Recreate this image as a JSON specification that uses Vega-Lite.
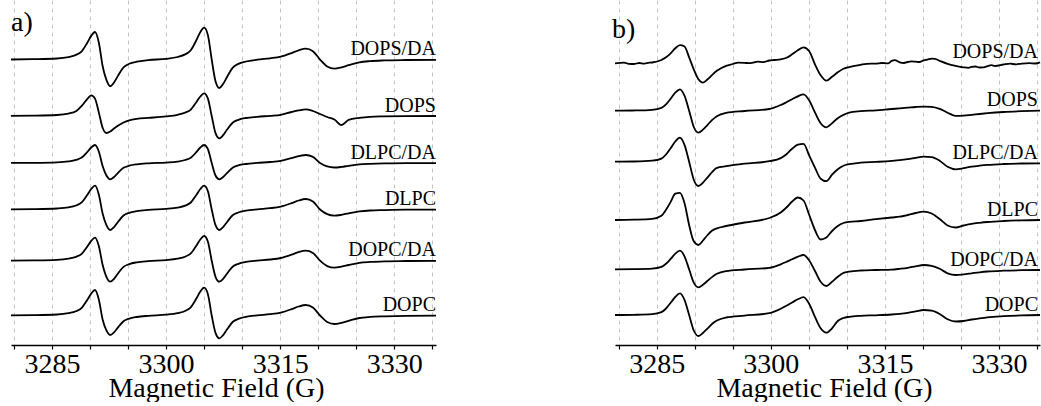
{
  "$schema": "https://vega.github.io/schema/vega-lite/v6.json",
  "background": "white",
  "padding": {"left": 7, "top": 0, "right": 0, "bottom": 0},
  "spacing": 171,
  "config": {
    "font": "Liberation Serif",
    "view": {"stroke": null},
    "axis": {
      "values": [3280, 3285, 3290, 3295, 3300, 3305, 3310, 3315, 3320, 3325, 3330, 3335],
      "labelExpr": "datum.value % 15 === 0 ? datum.label : ''",
      "format": "d",
      "grid": true,
      "gridColor": "#c4c4c4",
      "gridDash": [4, 4],
      "gridWidth": 1,
      "domainColor": "black",
      "domainWidth": 1.5,
      "tickColor": "black",
      "tickSize": 4,
      "tickWidth": 1.2,
      "labelFontSize": 28,
      "labelFont": "Liberation Serif",
      "labelColor": "black",
      "labelPadding": 1,
      "labelFlush": false,
      "labelOverlap": false,
      "titleFontSize": 28,
      "titleFont": "Liberation Serif",
      "titleFontWeight": "normal",
      "titleColor": "black",
      "titlePadding": -4
    }
  },
  "datasets": {
    "a": [
      {"x": 3279.6, "DOPS/DA": 285.5, "DOPS": 229.1, "DLPC/DA": 182.1, "DLPC": 135.6, "DOPC/DA": 84.4, "DOPC": 29.6},
      {"x": 3282.5, "DOPS/DA": 285.8, "DOPS": 229.3, "DLPC/DA": 182.2, "DLPC": 135.8, "DOPC/DA": 84.6, "DOPC": 29.8},
      {"x": 3285.65, "DOPS/DA": 286.5, "DOPS": 230.0, "DLPC/DA": 182.7, "DLPC": 136.5, "DOPC/DA": 85.2, "DOPC": 30.5},
      {"x": 3287.15, "DOPS/DA": 287.9, "DOPS": 231.4, "DLPC/DA": 183.6, "DLPC": 137.6, "DOPC/DA": 86.4, "DOPC": 31.8},
      {"x": 3288.15, "DOPS/DA": 290.1, "DOPS": 233.8, "DLPC/DA": 185.1, "DLPC": 139.5, "DOPC/DA": 88.2, "DOPC": 33.8},
      {"x": 3288.9, "DOPS/DA": 293.7, "DOPS": 239.1, "DLPC/DA": 187.4, "DLPC": 142.6, "DOPC/DA": 91.2, "DOPC": 37.2},
      {"x": 3289.65, "DOPS/DA": 302.5, "DOPS": 246.2, "DLPC/DA": 193.2, "DLPC": 150.3, "DOPC/DA": 98.6, "DOPC": 45.3},
      {"x": 3290.15, "DOPS/DA": 309.1, "DOPS": 249.6, "DLPC/DA": 197.5, "DLPC": 156.0, "DOPC/DA": 104.1, "DOPC": 51.4},
      {"x": 3290.65, "DOPS/DA": 313.0, "DOPS": 246.4, "DLPC/DA": 200.0, "DLPC": 159.3, "DOPC/DA": 107.3, "DOPC": 55.0},
      {"x": 3291.15, "DOPS/DA": 302.5, "DOPS": 232.6, "DLPC/DA": 193.5, "DLPC": 150.5, "DOPC/DA": 99.0, "DOPC": 45.5},
      {"x": 3291.65, "DOPS/DA": 279.0, "DOPS": 217.2, "DLPC/DA": 179.0, "DLPC": 131.5, "DOPC/DA": 80.3, "DOPC": 25.5},
      {"x": 3292.15, "DOPS/DA": 265.1, "DOPS": 212.0, "DLPC/DA": 169.5, "DLPC": 119.8, "DOPC/DA": 68.2, "DOPC": 14.6},
      {"x": 3292.65, "DOPS/DA": 258.8, "DOPS": 213.5, "DLPC/DA": 165.7, "DLPC": 115.0, "DOPC/DA": 63.3, "DOPC": 10.0},
      {"x": 3293.15, "DOPS/DA": 262.5, "DOPS": 216.5, "DLPC/DA": 168.0, "DLPC": 117.9, "DOPC/DA": 66.2, "DOPC": 12.7},
      {"x": 3293.65, "DOPS/DA": 268.9, "DOPS": 219.2, "DLPC/DA": 171.9, "DLPC": 122.8, "DOPC/DA": 71.3, "DOPC": 17.4},
      {"x": 3294.4, "DOPS/DA": 277.6, "DOPS": 222.5, "DLPC/DA": 177.2, "DLPC": 129.5, "DOPC/DA": 78.1, "DOPC": 23.8},
      {"x": 3295.15, "DOPS/DA": 281.2, "DOPS": 224.7, "DLPC/DA": 179.3, "DLPC": 132.2, "DOPC/DA": 80.9, "DOPC": 26.4},
      {"x": 3296.15, "DOPS/DA": 283.3, "DOPS": 226.2, "DLPC/DA": 180.7, "DLPC": 133.9, "DOPC/DA": 82.7, "DOPC": 28.0},
      {"x": 3297.65, "DOPS/DA": 284.9, "DOPS": 227.1, "DLPC/DA": 181.7, "DLPC": 135.1, "DOPC/DA": 83.9, "DOPC": 29.2},
      {"x": 3300.0, "DOPS/DA": 286.2, "DOPS": 228.6, "DLPC/DA": 182.4, "DLPC": 136.1, "DOPC/DA": 84.9, "DOPC": 30.3},
      {"x": 3301.5, "DOPS/DA": 288.0, "DOPS": 230.2, "DLPC/DA": 183.4, "DLPC": 137.4, "DOPC/DA": 86.3, "DOPC": 31.8},
      {"x": 3302.5, "DOPS/DA": 290.6, "DOPS": 232.4, "DLPC/DA": 185.0, "DLPC": 139.3, "DOPC/DA": 88.3, "DOPC": 34.0},
      {"x": 3303.25, "DOPS/DA": 294.8, "DOPS": 235.4, "DLPC/DA": 187.3, "DLPC": 142.5, "DOPC/DA": 91.6, "DOPC": 37.7},
      {"x": 3304.0, "DOPS/DA": 305.1, "DOPS": 243.1, "DLPC/DA": 193.1, "DLPC": 150.3, "DOPC/DA": 99.6, "DOPC": 46.7},
      {"x": 3304.5, "DOPS/DA": 312.9, "DOPS": 248.5, "DLPC/DA": 197.5, "DLPC": 156.0, "DOPC/DA": 105.5, "DOPC": 53.4},
      {"x": 3305.0, "DOPS/DA": 317.4, "DOPS": 251.7, "DLPC/DA": 200.0, "DLPC": 159.3, "DOPC/DA": 109.0, "DOPC": 57.3},
      {"x": 3305.5, "DOPS/DA": 309.9, "DOPS": 246.4, "DLPC/DA": 195.8, "DLPC": 153.7, "DOPC/DA": 103.2, "DOPC": 50.8},
      {"x": 3306.0, "DOPS/DA": 285.4, "DOPS": 229.0, "DLPC/DA": 182.0, "DLPC": 135.5, "DOPC/DA": 84.3, "DOPC": 29.5},
      {"x": 3306.5, "DOPS/DA": 263.7, "DOPS": 211.9, "DLPC/DA": 169.5, "DLPC": 119.8, "DOPC/DA": 68.2, "DOPC": 12.1},
      {"x": 3307.0, "DOPS/DA": 257.0, "DOPS": 206.7, "DLPC/DA": 165.7, "DLPC": 115.0, "DOPC/DA": 63.3, "DOPC": 6.7},
      {"x": 3307.5, "DOPS/DA": 261.0, "DOPS": 209.8, "DLPC/DA": 168.0, "DLPC": 117.9, "DOPC/DA": 66.2, "DOPC": 9.9},
      {"x": 3308.0, "DOPS/DA": 267.8, "DOPS": 215.2, "DLPC/DA": 171.9, "DLPC": 122.8, "DOPC/DA": 71.3, "DOPC": 15.4},
      {"x": 3308.75, "DOPS/DA": 277.2, "DOPS": 222.3, "DLPC/DA": 177.3, "DLPC": 129.7, "DOPC/DA": 78.3, "DOPC": 23.0},
      {"x": 3309.5, "DOPS/DA": 281.1, "DOPS": 225.2, "DLPC/DA": 179.6, "DLPC": 132.5, "DOPC/DA": 81.2, "DOPC": 26.1},
      {"x": 3310.5, "DOPS/DA": 283.5, "DOPS": 227.0, "DLPC/DA": 181.0, "DLPC": 134.3, "DOPC/DA": 83.1, "DOPC": 28.1},
      {"x": 3312.0, "DOPS/DA": 285.3, "DOPS": 228.2, "DLPC/DA": 182.1, "DLPC": 135.7, "DOPC/DA": 84.4, "DOPC": 29.6},
      {"x": 3313.67, "DOPS/DA": 286.7, "DOPS": 229.2, "DLPC/DA": 183.0, "DLPC": 136.8, "DOPC/DA": 85.5, "DOPC": 30.8},
      {"x": 3315.08, "DOPS/DA": 288.3, "DOPS": 230.2, "DLPC/DA": 184.2, "DLPC": 138.4, "DOPC/DA": 87.0, "DOPC": 32.4},
      {"x": 3316.49, "DOPS/DA": 291.9, "DOPS": 233.0, "DLPC/DA": 186.9, "DLPC": 141.8, "DOPC/DA": 90.3, "DOPC": 35.8},
      {"x": 3317.43, "DOPS/DA": 294.7, "DOPS": 234.6, "DLPC/DA": 188.8, "DLPC": 144.5, "DOPC/DA": 92.9, "DOPC": 38.5},
      {"x": 3318.37, "DOPS/DA": 296.4, "DOPS": 235.7, "DLPC/DA": 190.0, "DLPC": 146.0, "DOPC/DA": 94.3, "DOPC": 40.0},
      {"x": 3319.31, "DOPS/DA": 293.8, "DOPS": 234.0, "DLPC/DA": 188.1, "DLPC": 143.5, "DOPC/DA": 92.0, "DOPC": 37.5},
      {"x": 3320.25, "DOPS/DA": 285.4, "DOPS": 231.0, "DLPC/DA": 182.0, "DLPC": 135.5, "DOPC/DA": 84.3, "DOPC": 29.5},
      {"x": 3321.19, "DOPS/DA": 278.5, "DOPS": 228.0, "DLPC/DA": 178.6, "DLPC": 130.8, "DOPC/DA": 78.9, "DOPC": 23.0},
      {"x": 3322.13, "DOPS/DA": 276.4, "DOPS": 225.5, "DLPC/DA": 177.5, "DLPC": 129.3, "DOPC/DA": 77.3, "DOPC": 21.0},
      {"x": 3323.07, "DOPS/DA": 277.7, "DOPS": 220.0, "DLPC/DA": 178.1, "DLPC": 130.2, "DOPC/DA": 78.3, "DOPC": 22.2},
      {"x": 3324.01, "DOPS/DA": 279.8, "DOPS": 225.2, "DLPC/DA": 179.2, "DLPC": 131.7, "DOPC/DA": 80.0, "DOPC": 24.2},
      {"x": 3325.42, "DOPS/DA": 282.7, "DOPS": 227.2, "DLPC/DA": 180.6, "DLPC": 133.6, "DOPC/DA": 82.2, "DOPC": 27.0},
      {"x": 3326.83, "DOPS/DA": 283.9, "DOPS": 228.2, "DLPC/DA": 181.2, "DLPC": 134.5, "DOPC/DA": 83.1, "DOPC": 28.1},
      {"x": 3328.71, "DOPS/DA": 284.6, "DOPS": 228.6, "DLPC/DA": 181.6, "DLPC": 134.9, "DOPC/DA": 83.7, "DOPC": 28.7},
      {"x": 3331.53, "DOPS/DA": 285.0, "DOPS": 228.9, "DLPC/DA": 181.8, "DLPC": 135.3, "DOPC/DA": 84.0, "DOPC": 29.2},
      {"x": 3335.5, "DOPS/DA": 285.2, "DOPS": 229.0, "DLPC/DA": 181.9, "DLPC": 135.4, "DOPC/DA": 84.2, "DOPC": 29.3}
    ],
    "b": [
      {"x": 3279.5, "DOPS/DA": 281.7, "DOPS": 234.3, "DLPC/DA": 183.3, "DLPC": 125.0, "DOPC/DA": 75.7, "DOPC": 30.0},
      {"x": 3280.7, "DOPS/DA": 282.3},
      {"x": 3281.3, "DOPS/DA": 281.2},
      {"x": 3281.96, "DOPS/DA": 281.0, "DOPS": 234.5, "DLPC/DA": 183.5, "DLPC": 125.3, "DOPC/DA": 75.9, "DOPC": 30.2},
      {"x": 3282.7, "DOPS/DA": 282.0},
      {"x": 3283.3, "DOPS/DA": 281.3},
      {"x": 3283.8, "DOPS/DA": 282.2},
      {"x": 3284.39, "DOPS/DA": 282.5, "DOPS": 235.2, "DLPC/DA": 184.3, "DLPC": 126.1, "DOPC/DA": 76.4, "DOPC": 30.8},
      {"x": 3285.6, "DOPS/DA": 285.0, "DOPS": 237.1, "DLPC/DA": 186.4, "DLPC": 129.2, "DOPC/DA": 78.1, "DOPC": 32.8},
      {"x": 3286.21, "DOPS/DA": 287.7, "DOPS": 240.7, "DLPC/DA": 190.5, "DLPC": 135.2, "DOPC/DA": 81.3, "DOPC": 36.5},
      {"x": 3286.82, "DOPS/DA": 291.7, "DOPS": 246.3, "DLPC/DA": 196.7, "DLPC": 143.1, "DOPC/DA": 86.1, "DOPC": 42.2},
      {"x": 3287.43, "DOPS/DA": 296.7, "DOPS": 252.3, "DLPC/DA": 203.5, "DLPC": 151.3, "DOPC/DA": 91.3, "DOPC": 48.1},
      {"x": 3288.04, "DOPS/DA": 299.8, "DOPS": 255.7, "DLPC/DA": 207.3, "DLPC": 152.2, "DOPC/DA": 94.3, "DOPC": 51.7},
      {"x": 3288.64, "DOPS/DA": 298.5, "DOPS": 249.3, "DLPC/DA": 200.1, "DLPC": 142.0, "DOPC/DA": 88.7, "DOPC": 45.2},
      {"x": 3289.25, "DOPS/DA": 287.7, "DOPS": 234.3, "DLPC/DA": 183.3, "DLPC": 120.0, "DOPC/DA": 75.7, "DOPC": 30.0},
      {"x": 3289.86, "DOPS/DA": 275.7, "DOPS": 218.0, "DLPC/DA": 165.3, "DLPC": 103.7, "DOPC/DA": 62.4, "DOPC": 14.5},
      {"x": 3290.47, "DOPS/DA": 265.7, "DOPS": 212.3, "DLPC/DA": 159.0, "DLPC": 100.0, "DOPC/DA": 57.7, "DOPC": 9.0},
      {"x": 3291.07, "DOPS/DA": 262.4, "DOPS": 215.4, "DLPC/DA": 162.4, "DLPC": 104.5, "DOPC/DA": 60.2, "DOPC": 12.0},
      {"x": 3291.68, "DOPS/DA": 265.7, "DOPS": 220.2, "DLPC/DA": 167.7, "DLPC": 110.0, "DOPC/DA": 64.2, "DOPC": 16.6},
      {"x": 3292.29, "DOPS/DA": 270.2, "DOPS": 225.1, "DLPC/DA": 173.1, "DLPC": 114.5, "DOPC/DA": 68.1, "DOPC": 21.2},
      {"x": 3292.9, "DOPS/DA": 274.2, "DOPS": 228.8, "DLPC/DA": 177.2, "DLPC": 116.7, "DOPC/DA": 71.2, "DOPC": 24.5},
      {"x": 3294.11, "DOPS/DA": 279.2, "DOPS": 232.1, "DLPC/DA": 178.8, "DLPC": 119.0, "DOPC/DA": 73.9, "DOPC": 27.5},
      {"x": 3295.0, "DOPS/DA": 281.0},
      {"x": 3295.7, "DOPS/DA": 282.4},
      {"x": 3296.54, "DOPS/DA": 282.2, "DOPS": 234.0, "DLPC/DA": 181.3, "DLPC": 122.5, "DOPC/DA": 75.5, "DOPC": 29.4},
      {"x": 3297.3, "DOPS/DA": 281.8},
      {"x": 3298.3, "DOPS/DA": 283.3},
      {"x": 3299.0, "DOPS/DA": 282.9},
      {"x": 3299.8, "DOPS/DA": 284.5, "DOPS": 236.0, "DLPC/DA": 183.8, "DLPC": 127.0, "DOPC/DA": 77.2, "DOPC": 31.8},
      {"x": 3300.5, "DOPS/DA": 285.0},
      {"x": 3301.3, "DOPS/DA": 285.7, "DOPS": 240.0, "DLPC/DA": 186.9, "DLPC": 132.5, "DOPC/DA": 80.7, "DOPC": 36.2},
      {"x": 3302.05, "DOPS/DA": 287.2, "DOPS": 242.8, "DLPC/DA": 190.8, "DLPC": 137.5, "DOPC/DA": 83.1, "DOPC": 39.3},
      {"x": 3302.8, "DOPS/DA": 290.7, "DOPS": 245.8, "DLPC/DA": 196.3, "DLPC": 143.5, "DOPC/DA": 85.7, "DOPC": 42.5},
      {"x": 3303.55, "DOPS/DA": 294.7, "DOPS": 248.7, "DLPC/DA": 200.3, "DLPC": 147.5, "DOPC/DA": 88.3, "DOPC": 45.7},
      {"x": 3304.3, "DOPS/DA": 297.7, "DOPS": 250.7, "DLPC/DA": 201.1, "DLPC": 144.5, "DOPC/DA": 90.0, "DOPC": 47.8},
      {"x": 3305.05, "DOPS/DA": 293.7, "DOPS": 244.5, "DLPC/DA": 189.3, "DLPC": 130.0, "DOPC/DA": 84.6, "DOPC": 41.0},
      {"x": 3305.8, "DOPS/DA": 280.7, "DOPS": 232.6, "DLPC/DA": 177.3, "DLPC": 115.0, "DOPC/DA": 74.0, "DOPC": 28.2},
      {"x": 3306.55, "DOPS/DA": 269.7, "DOPS": 221.8, "DLPC/DA": 166.3, "DLPC": 105.5, "DOPC/DA": 63.2, "DOPC": 16.7},
      {"x": 3307.3, "DOPS/DA": 264.3, "DOPS": 217.7, "DLPC/DA": 163.8, "DLPC": 107.5, "DOPC/DA": 59.0, "DOPC": 12.3},
      {"x": 3308.05, "DOPS/DA": 268.2, "DOPS": 221.8, "DLPC/DA": 170.3, "DLPC": 114.0, "DOPC/DA": 63.2, "DOPC": 16.7},
      {"x": 3308.8, "DOPS/DA": 272.7, "DOPS": 226.8, "DLPC/DA": 175.8, "DLPC": 119.0, "DOPC/DA": 68.2, "DOPC": 24.0},
      {"x": 3309.55, "DOPS/DA": 276.2, "DOPS": 230.1, "DLPC/DA": 179.3, "DLPC": 122.0, "DOPC/DA": 72.2, "DOPC": 27.0},
      {"x": 3310.3, "DOPS/DA": 277.9, "DOPS": 232.3, "DLPC/DA": 180.8, "DLPC": 123.2, "DOPC/DA": 73.4, "DOPC": 28.2},
      {"x": 3311.8, "DOPS/DA": 280.2, "DOPS": 233.8, "DLPC/DA": 182.3, "DLPC": 124.0, "DOPC/DA": 74.5, "DOPC": 29.2},
      {"x": 3312.6, "DOPS/DA": 281.2},
      {"x": 3313.8, "DOPS/DA": 281.4, "DOPS": 234.7, "DLPC/DA": 183.1, "DLPC": 125.8, "DOPC/DA": 75.0, "DOPC": 29.7},
      {"x": 3314.6, "DOPS/DA": 282.0},
      {"x": 3315.4, "DOPS/DA": 281.6},
      {"x": 3315.9, "DOPS/DA": 284.2, "DOPS": 236.0, "DLPC/DA": 184.1, "DLPC": 127.5, "DOPC/DA": 75.4, "DOPC": 30.5},
      {"x": 3316.3, "DOPS/DA": 284.9},
      {"x": 3316.95, "DOPS/DA": 282.7, "DOPS": 236.6, "DLPC/DA": 184.8, "DLPC": 128.3, "DOPC/DA": 76.2, "DOPC": 31.2},
      {"x": 3317.5, "DOPS/DA": 282.0},
      {"x": 3318.0, "DOPS/DA": 283.0, "DOPS": 237.3, "DLPC/DA": 185.8, "DLPC": 130.0, "DOPC/DA": 77.2, "DOPC": 32.2},
      {"x": 3318.5, "DOPS/DA": 283.6},
      {"x": 3319.05, "DOPS/DA": 283.3, "DOPS": 238.0, "DLPC/DA": 187.1, "DLPC": 132.0, "DOPC/DA": 78.7, "DOPC": 33.6},
      {"x": 3319.6, "DOPS/DA": 283.0},
      {"x": 3320.1, "DOPS/DA": 284.7, "DOPS": 238.4, "DLPC/DA": 188.3, "DLPC": 133.3, "DOPC/DA": 80.0, "DOPC": 35.0},
      {"x": 3320.6, "DOPS/DA": 285.4},
      {"x": 3321.15, "DOPS/DA": 286.4, "DOPS": 238.1, "DLPC/DA": 187.9, "DLPC": 131.5, "DOPC/DA": 79.2, "DOPC": 34.3},
      {"x": 3321.6, "DOPS/DA": 286.1},
      {"x": 3322.2, "DOPS/DA": 284.2, "DOPS": 236.1, "DLPC/DA": 184.3, "DLPC": 126.0, "DOPC/DA": 76.2, "DOPC": 31.0},
      {"x": 3323.25, "DOPS/DA": 281.2, "DOPS": 232.3, "DLPC/DA": 178.3, "DLPC": 119.5, "DOPC/DA": 71.7, "DOPC": 25.8},
      {"x": 3324.3, "DOPS/DA": 279.2, "DOPS": 229.1, "DLPC/DA": 175.7, "DLPC": 117.5, "DOPC/DA": 70.0, "DOPC": 23.5},
      {"x": 3325.35, "DOPS/DA": 277.7, "DOPS": 229.3, "DLPC/DA": 176.8, "DLPC": 119.5, "DOPC/DA": 70.7, "DOPC": 24.0},
      {"x": 3326.0, "DOPS/DA": 277.2},
      {"x": 3326.4, "DOPS/DA": 278.2, "DOPS": 230.1, "DLPC/DA": 178.3, "DLPC": 121.2, "DOPC/DA": 71.7, "DOPC": 25.5},
      {"x": 3326.9, "DOPS/DA": 278.5},
      {"x": 3327.45, "DOPS/DA": 277.5, "DOPS": 231.0, "DLPC/DA": 179.3, "DLPC": 122.2, "DOPC/DA": 72.7, "DOPC": 26.7},
      {"x": 3328.0, "DOPS/DA": 277.6},
      {"x": 3328.5, "DOPS/DA": 278.9, "DOPS": 231.8, "DLPC/DA": 180.1, "DLPC": 123.0, "DOPC/DA": 73.5, "DOPC": 27.7},
      {"x": 3329.0, "DOPS/DA": 279.8},
      {"x": 3329.5, "DOPS/DA": 279.0},
      {"x": 3330.6, "DOPS/DA": 280.5, "DOPS": 233.0, "DLPC/DA": 181.0, "DLPC": 124.0, "DOPC/DA": 74.3, "DOPC": 28.8},
      {"x": 3331.5, "DOPS/DA": 281.4},
      {"x": 3332.2, "DOPS/DA": 280.6},
      {"x": 3333.0, "DOPS/DA": 281.4, "DOPS": 233.8, "DLPC/DA": 181.5, "DLPC": 124.7, "DOPC/DA": 74.8, "DOPC": 29.6},
      {"x": 3334.0, "DOPS/DA": 281.9},
      {"x": 3334.8, "DOPS/DA": 281.5},
      {"x": 3335.4, "DOPS/DA": 282.7, "DOPS": 234.3, "DLPC/DA": 181.7, "DLPC": 125.0, "DOPC/DA": 75.0, "DOPC": 30.0}
    ]
  },
  "hconcat": [
    {
      "width": 425,
      "height": 345,
      "layer": [
        {
          "data": {"name": "a"},
          "transform": [
            {"fold": ["DOPS/DA", "DOPS", "DLPC/DA", "DLPC", "DOPC/DA", "DOPC"], "as": ["series", "v"]},
            {"filter": "isValid(datum.v)"}
          ],
          "mark": {"type": "line", "color": "black", "strokeWidth": 1.8, "interpolate": "monotone"},
          "encoding": {
            "x": {"field": "x", "type": "quantitative", "scale": {"domain": [3279.6, 3335.5], "nice": false, "zero": false}, "axis": {"title": "Magnetic Field (G)", "titleX": 205}},
            "y": {"field": "v", "type": "quantitative", "scale": {"domain": [0, 345], "nice": false, "zero": false}, "axis": null},
            "detail": {"field": "series"}
          }
        },
        {
          "data": {"name": "a"},
          "transform": [
            {"fold": ["DOPS/DA", "DOPS", "DLPC/DA", "DLPC", "DOPC/DA", "DOPC"], "as": ["series", "v"]},
            {"filter": "isValid(datum.v)"},
            {"aggregate": [{"op": "argmax", "field": "x", "as": "last"}], "groupby": ["series"]}
          ],
          "mark": {"type": "text", "align": "right", "baseline": "alphabetic", "dy": -4.5, "fontSize": 20, "font": "Liberation Serif", "color": "black"},
          "encoding": {
            "x": {"field": "last.x", "type": "quantitative"},
            "y": {"field": "last.v", "type": "quantitative", "axis": null},
            "text": {"field": "series"}
          }
        },
        {
          "data": {"name": "a"},
          "transform": [
            {"aggregate": [{"op": "min", "field": "x", "as": "x0"}]}
          ],
          "mark": {"type": "text", "align": "left", "baseline": "alphabetic", "fontSize": 28, "font": "Liberation Serif", "color": "black", "text": "a)"},
          "encoding": {
            "x": {"field": "x0", "type": "quantitative"},
            "y": {"datum": 314, "type": "quantitative", "axis": null}
          }
        }
      ]
    },
    {
      "width": 425,
      "height": 345,
      "layer": [
        {
          "data": {"name": "b"},
          "transform": [
            {"fold": ["DOPS/DA", "DOPS", "DLPC/DA", "DLPC", "DOPC/DA", "DOPC"], "as": ["series", "v"]},
            {"filter": "isValid(datum.v)"}
          ],
          "mark": {"type": "line", "color": "black", "strokeWidth": 1.8, "interpolate": "monotone"},
          "encoding": {
            "x": {"field": "x", "type": "quantitative", "scale": {"domain": [3279.5, 3335.4], "nice": false, "zero": false}, "axis": {"title": "Magnetic Field (G)", "titleX": 209}},
            "y": {"field": "v", "type": "quantitative", "scale": {"domain": [0, 345], "nice": false, "zero": false}, "axis": null},
            "detail": {"field": "series"}
          }
        },
        {
          "data": {"name": "b"},
          "transform": [
            {"fold": ["DOPS/DA", "DOPS", "DLPC/DA", "DLPC", "DOPC/DA", "DOPC"], "as": ["series", "v"]},
            {"filter": "isValid(datum.v)"},
            {"aggregate": [{"op": "argmax", "field": "x", "as": "last"}], "groupby": ["series"]}
          ],
          "mark": {"type": "text", "align": "right", "baseline": "alphabetic", "dx": -2, "dy": -4.5, "fontSize": 20, "font": "Liberation Serif", "color": "black"},
          "encoding": {
            "x": {"field": "last.x", "type": "quantitative"},
            "y": {"field": "last.v", "type": "quantitative", "axis": null},
            "text": {"field": "series"}
          }
        },
        {
          "data": {"name": "b"},
          "transform": [
            {"aggregate": [{"op": "min", "field": "x", "as": "x0"}]}
          ],
          "mark": {"type": "text", "align": "left", "baseline": "alphabetic", "dx": -3, "fontSize": 28, "font": "Liberation Serif", "color": "black", "text": "b)"},
          "encoding": {
            "x": {"field": "x0", "type": "quantitative"},
            "y": {"datum": 307, "type": "quantitative", "axis": null}
          }
        }
      ]
    }
  ]
}
